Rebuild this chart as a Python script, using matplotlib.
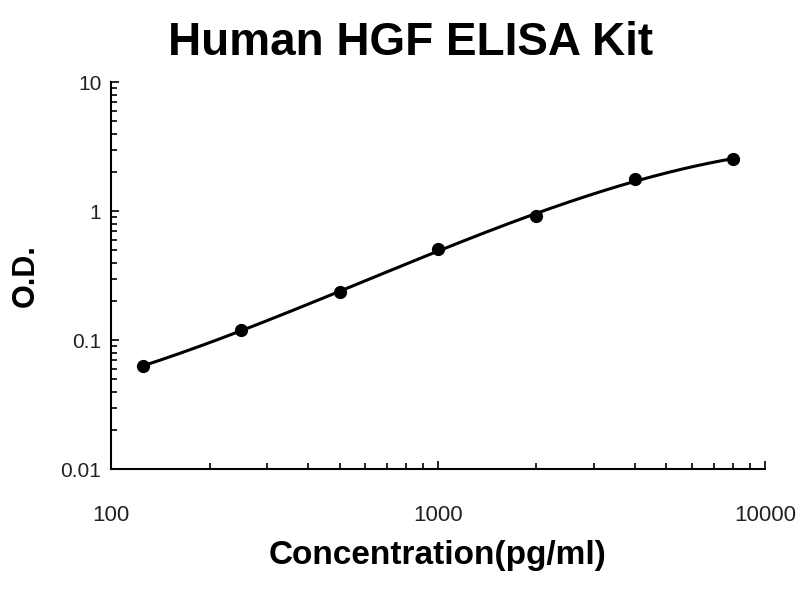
import numpy as np
import matplotlib
matplotlib.use('Agg')
import matplotlib.pyplot as plt
from matplotlib.ticker import LogLocator, NullFormatter, FixedLocator, FixedFormatter

# 1. 資料 (讀自參考圖)
conc = [125, 250, 500, 1000, 2000, 4000, 8000]
od = [0.063, 0.120, 0.235, 0.507, 0.914, 1.77, 2.53]

x_ticks = [100, 1000, 10000]
x_tick_labels = ['100', '1000', '10000']
y_ticks = [0.01, 0.1, 1, 10]
y_tick_labels = ['0.01', '0.1', '1', '10']

plt.rcParams['font.family'] = ['Liberation Sans', 'DejaVu Sans']

# 2. 擬合曲線 (log-log 三次多項式)
lx = np.log10(conc)
ly = np.log10(od)
coef = np.polyfit(lx, ly, 3)
x_line = np.linspace(lx.min(), lx.max(), 300)
y_line = np.polyval(coef, x_line)

# 3. 繪圖
fig = plt.figure(figsize=(8, 6), dpi=100)
ax = fig.add_axes([0.139, 0.218, 0.817, 0.645])
ax.plot(10 ** x_line, 10 ** y_line, color='black', linewidth=2.2)
ax.plot(conc, od, 'o', color='black', markersize=8.5)

ax.set_xscale('log')
ax.set_yscale('log')
ax.set_xlim(100, 10000)
ax.set_ylim(0.01, 10)

ax.xaxis.set_major_locator(FixedLocator(x_ticks))
ax.xaxis.set_major_formatter(FixedFormatter(x_tick_labels))
ax.yaxis.set_major_locator(FixedLocator(y_ticks))
ax.yaxis.set_major_formatter(FixedFormatter(y_tick_labels))
ax.xaxis.set_minor_locator(LogLocator(base=10, subs=np.arange(2, 10)))
ax.yaxis.set_minor_locator(LogLocator(base=10, subs=np.arange(2, 10)))
ax.xaxis.set_minor_formatter(NullFormatter())
ax.yaxis.set_minor_formatter(NullFormatter())

ax.tick_params(axis='both', which='both', direction='in', width=1.2, color='black')
ax.tick_params(axis='both', which='major', length=6)
ax.tick_params(axis='both', which='minor', length=4.5)
ax.tick_params(axis='x', which='major', labelsize=16, pad=26, labelcolor='#222222')
ax.tick_params(axis='y', which='major', labelsize=15, pad=7, labelcolor='#222222')

for side in ['top', 'right']:
    ax.spines[side].set_visible(False)
for side in ['left', 'bottom']:
    ax.spines[side].set_linewidth(1.5)

fig.text(0.513, 0.928, 'Human HGF ELISA Kit', ha='center', va='center',
         fontsize=33, fontweight='bold')
ax.set_xlabel('Concentration(pg/ml)', fontsize=24, fontweight='bold', labelpad=10)
ax.set_ylabel('O.D.', fontsize=22, fontweight='bold', labelpad=14)

plt.savefig('out.png', dpi=100)
plt.close()
